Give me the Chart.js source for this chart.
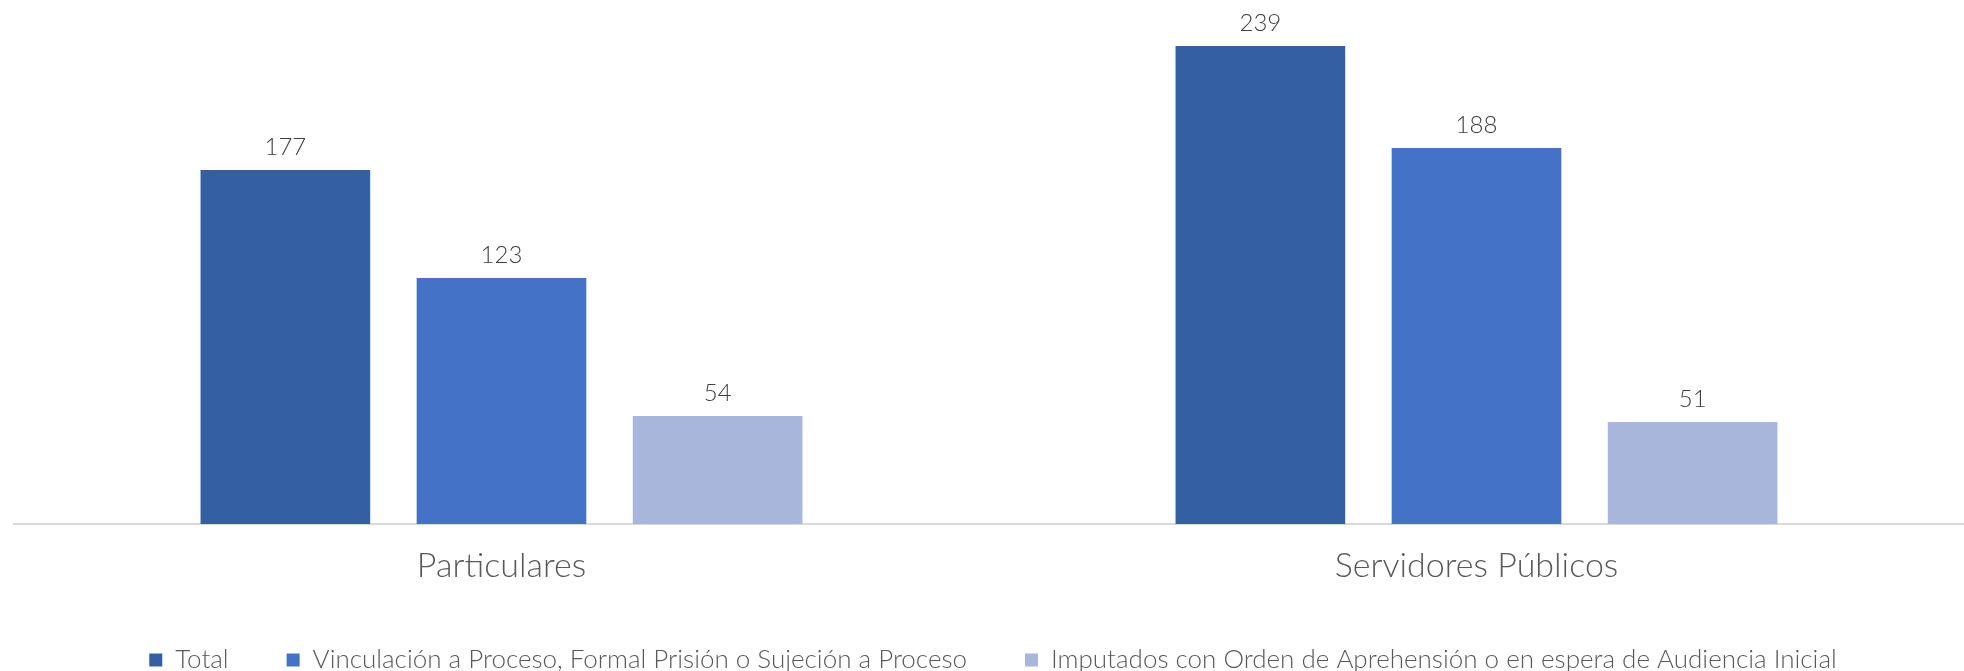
<!DOCTYPE html>
<html>
<head>
<meta charset="utf-8">
<script src="https://cdn.jsdelivr.net/npm/chart.js@4"></script>
<style>
html,body{margin:0;padding:0;background:#fff;}
#wrap{width:1964px;height:671px;position:relative;}
</style>
</head>
<body>
<div id="wrap"><canvas id="c"></canvas></div>
<script>
const categories = ["Particulares", "Servidores Públicos"];
const seriesNames = [
  "Total",
  "Vinculación a Proceso, Formal Prisión o Sujeción a Proceso",
  "Imputados con Orden de Aprehensión o en espera de Audiencia Inicial"
];
const totalValues = [177, 239];
const vinculacionValues = [123, 188];
const imputadosValues = [54, 51];
const seriesColors = ["#355FA3", "#4472C4", "#A7B6DA"];

const FONT = "Lato, 'Open Sans', sans-serif";

const valueLabels = {
  id: 'valueLabels',
  afterDatasetsDraw(chart) {
    const ctx = chart.ctx;
    ctx.save();
    ctx.font = "300 24px " + FONT;
    ctx.fillStyle = "#404040";
    ctx.textAlign = "center";
    ctx.textBaseline = "middle";
    chart.data.datasets.forEach((ds, i) => {
      const meta = chart.getDatasetMeta(i);
      meta.data.forEach((bar, j) => {
        ctx.fillText(String(ds.data[j]), bar.x, bar.y - 23);
      });
    });
    ctx.restore();
  }
};

new Chart(document.getElementById('c'), {
  type: 'bar',
  data: {
    labels: categories,
    datasets: [
      { label: seriesNames[0], data: totalValues, backgroundColor: seriesColors[0] },
      { label: seriesNames[1], data: vinculacionValues, backgroundColor: seriesColors[1] },
      { label: seriesNames[2], data: imputadosValues, backgroundColor: seriesColors[2] }
    ]
  },
  options: {
    responsive: true,
    maintainAspectRatio: false,
    animation: false,
    categoryPercentage: 0.665,
    barPercentage: 0.785,
    layout: { padding: { top: 24, left: 14, right: -8, bottom: -12 } },
    plugins: {
      tooltip: { enabled: false },
      legend: {
        position: 'bottom',
        labels: {
          font: { family: FONT, size: 26, weight: '300' },
          color: '#595959',
          boxWidth: 13,
          boxHeight: 13,
          padding: 58
        }
      }
    },
    scales: {
      x: {
        grid: { display: false, drawTicks: false },
        border: { display: true, color: '#D9D9D9', width: 2 },
        ticks: {
          font: { family: FONT, size: 34, weight: '300' },
          color: '#595959',
          padding: 22
        },
        afterFit(scale) { scale.height = 65; }
      },
      y: {
        display: false,
        min: 0,
        max: 250
      }
    }
  },
  plugins: [valueLabels]
});
</script>
</body>
</html>
